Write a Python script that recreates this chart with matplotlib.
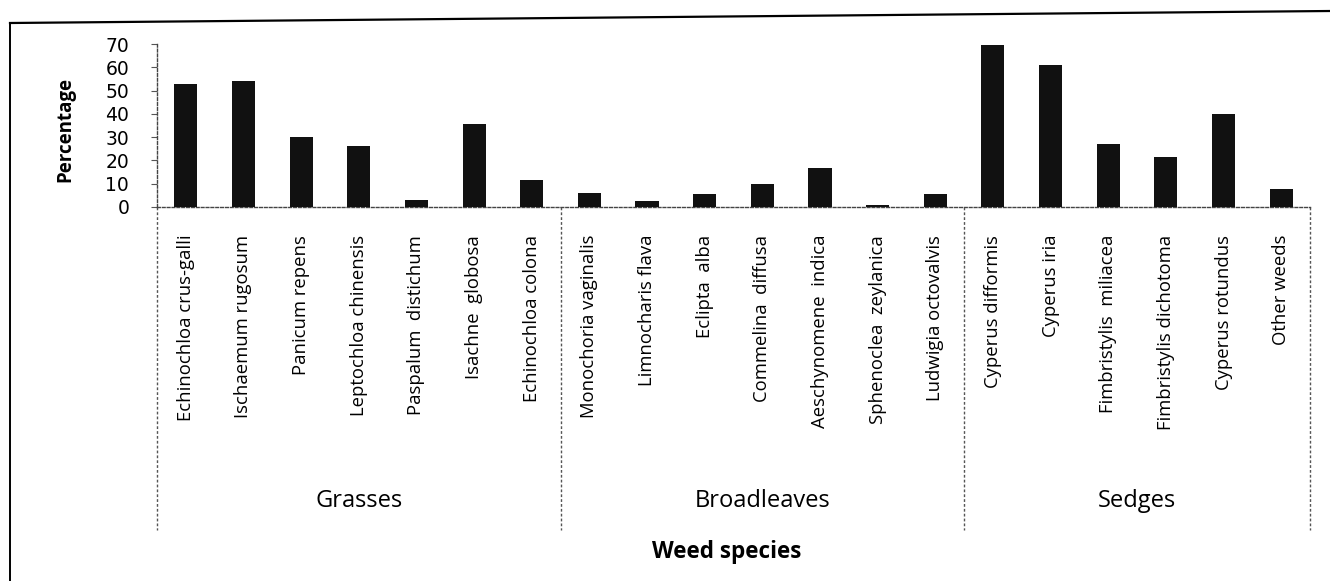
import matplotlib
matplotlib.use("Agg")
import matplotlib.pyplot as plt
from matplotlib.lines import Line2D
import matplotlib.transforms as mtransforms

species = ["Echinochloa crus-galli", "Ischaemum rugosum", "Panicum repens",
           "Leptochloa chinensis", "Paspalum  distichum", "Isachne  globosa",
           "Echinochloa colona", "Monochoria vaginalis", "Limnocharis flava",
           "Eclipta  alba", "Commelina  diffusa", "Aeschynomene  indica",
           "Sphenoclea  zeylanica", "Ludwigia octovalvis", "Cyperus difformis",
           "Cyperus iria", "Fimbristylis  miliacea", "Fimbristylis dichotoma",
           "Cyperus rotundus", "Other weeds"]
values = [53, 54, 30, 26, 3, 35.5, 11.5, 6, 2.5, 5.7, 10, 16.6, 1, 5.4,
          69.5, 61, 27, 21.5, 40, 7.7]
groups = ["Grasses", "Broadleaves", "Sedges"]
group_sizes = [7, 7, 6]
yticks = [0, 10, 20, 30, 40, 50, 60, 70]

FONT = ["Open Sans", "DejaVu Sans"]
plt.rcParams["font.family"] = FONT

W, H = 1330, 581
fig = plt.figure(figsize=(W / 100, H / 100), dpi=100)
renderer = fig.canvas.get_renderer()


def fit_size(text, target_px, weight="normal", family=FONT):
    t = fig.text(0, 0, text, fontsize=10, fontweight=weight, family=family)
    w = t.get_window_extent(renderer).width
    t.remove()
    return 10 * target_px / w


sp_fs = fit_size("Panicum repens", 140)
grp_fs = fit_size("Grasses", 87)
ttl_fs = fit_size("Weed species", 150, weight="bold")
yl_fs = fit_size("Percentage", 106, weight="bold")

ax = fig.add_axes([157 / W, 1 - 207 / H, 1153 / W, 163 / H])

x = list(range(len(species)))
ax.bar(x, values, width=0.4, color="#111111", zorder=3)
ax.set_xlim(-0.5, len(species) - 0.5)
ax.set_ylim(0, 70)
ax.set_yticks(yticks)
ax.set_yticklabels([str(v) for v in yticks], fontsize=13.5,
                   family=["DejaVu Sans"])
ax.tick_params(axis="y", length=4, pad=16, color="#555555")
ax.set_xticks(x)
ax.set_xticklabels(species, rotation=90, fontsize=sp_fs)
ax.tick_params(axis="x", length=0, pad=20)

for s in ["top", "right"]:
    ax.spines[s].set_visible(False)
for s in ["left", "bottom"]:
    ax.spines[s].set_linestyle((0, (2, 1.5)))
    ax.spines[s].set_color("#444444")
    ax.spines[s].set_linewidth(1.0)

fig.text(65 / W, 1 - 130 / H, "Percentage", rotation=90, ha="center",
         va="center", fontsize=yl_fs, fontweight="bold")

# group separators and labels
trans = mtransforms.blended_transform_factory(ax.transData, ax.transAxes)
edges = [-0.5]
for n in group_sizes:
    edges.append(edges[-1] + n)
for e in edges:
    ax.add_line(Line2D([e, e], [0, -1.98], transform=trans, clip_on=False,
                       color="#555555", lw=1.0, linestyle=(0, (2, 1.5))))
for g, a, b in zip(groups, edges[:-1], edges[1:]):
    ax.text((a + b) / 2, (207 - 501) / 163, g, transform=trans, ha="center",
            va="center", fontsize=grp_fs)

fig.text(727 / W, 1 - 552 / H, "Weed species", ha="center", va="center",
         fontsize=ttl_fs, fontweight="bold")

# scanned page border
fig.add_artist(Line2D([10 / W, 1.0], [1 - 23 / H, 1 - 11 / H],
                      transform=fig.transFigure, color="black", lw=1.6))
fig.add_artist(Line2D([10 / W, 10 / W], [1 - 23 / H, 0],
                      transform=fig.transFigure, color="black", lw=1.4))

fig.savefig("out.png", dpi=100)
